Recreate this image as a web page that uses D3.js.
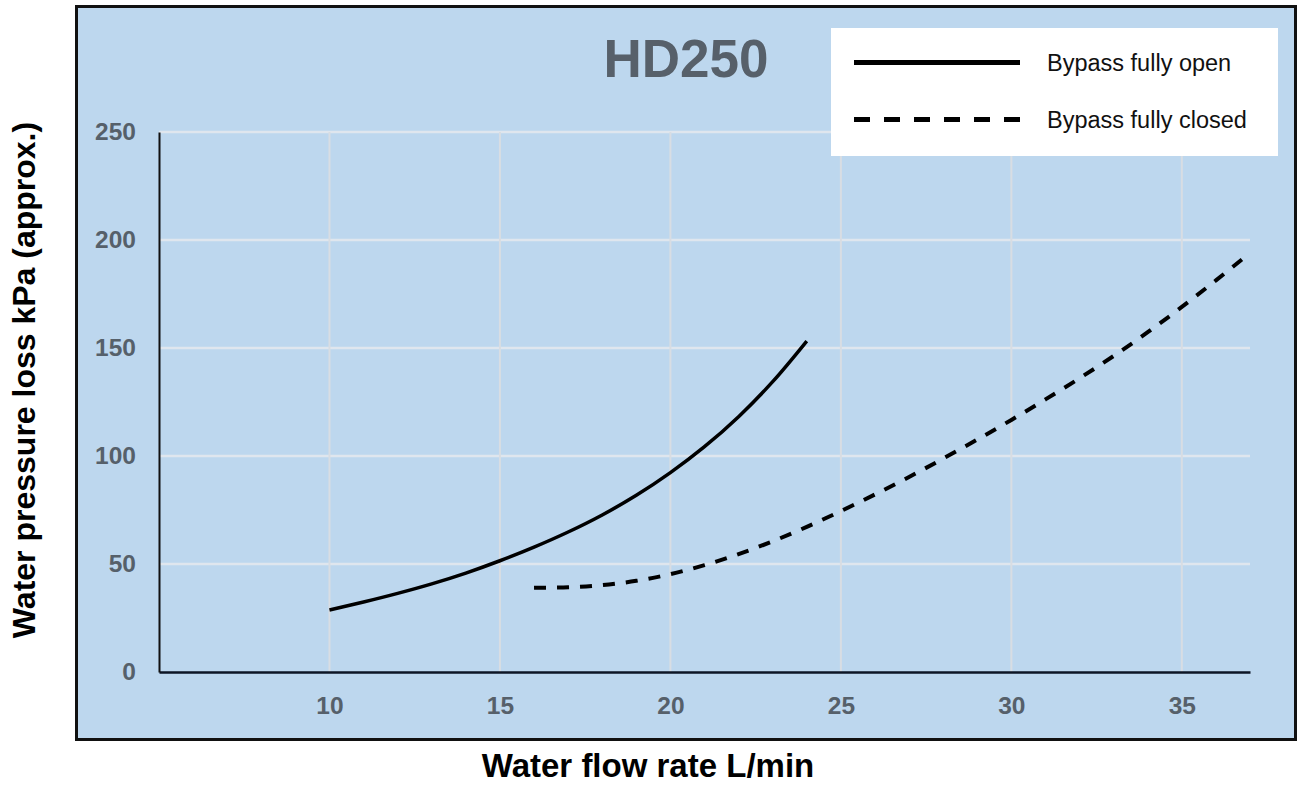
<!DOCTYPE html>
<html>
<head>
<meta charset="utf-8">
<script src="https://cdn.jsdelivr.net/npm/d3@7"></script>
<style>
  html, body { margin: 0; padding: 0; background: #ffffff; }
  svg { display: block; font-family: "Liberation Sans", Arial, sans-serif; }
</style>
</head>
<body>
<svg id="chart" width="1298" height="785"></svg>
<script>
// ---- data ----
const chartTitle = "HD250";
const xTitle = "Water flow rate L/min";
const yTitle = "Water pressure loss kPa (approx.)";
const seriesNames = ["Bypass fully open", "Bypass fully closed"];
const xTicks = [10, 15, 20, 25, 30, 35];
const yTicks = [0, 50, 100, 150, 200, 250];
const openFlow = [10, 11, 12, 13, 14, 15, 16, 17, 18, 19, 20, 21, 22, 23, 24];
const openLoss = [28.7, 32.4, 36.4, 40.8, 45.8, 51.5, 57.8, 64.8, 72.7, 81.8, 92.3, 104.3, 118.2, 134.4, 153.2];
const closedFlow = [16, 17, 18, 19, 20, 21, 22, 23, 24, 25, 26, 27, 28, 29, 30, 31, 32, 33, 34, 35, 36, 37];
const closedLoss = [39, 39.2, 40.2, 42.2, 45.3, 49.5, 54.6, 60.5, 67.2, 74.5, 82.2, 90.3, 98.8, 107.6, 116.7, 126.2, 136, 146.3, 157.3, 169, 181.3, 194];

// ---- layout ----
const svg = d3.select("#chart");
const plot = { left: 159, right: 1250, top: 132, bottom: 672 };
const x = d3.scaleLinear().domain([5, 37]).range([plot.left, plot.right]);
const y = d3.scaleLinear().domain([0, 250]).range([plot.bottom, plot.top]);

// frame
svg.append("rect")
  .attr("x", 76.5).attr("y", 6.5).attr("width", 1219).attr("height", 733)
  .attr("fill", "#BDD7EE").attr("stroke", "#111").attr("stroke-width", 3);

// gridlines
const grid = svg.append("g");
grid.selectAll("line.h").data(yTicks.filter(d => d > 0)).join("line")
  .attr("class", "h")
  .attr("x1", plot.left).attr("x2", plot.right)
  .attr("y1", d => y(d)).attr("y2", d => y(d))
  .attr("stroke", "#DFE6EE").attr("stroke-width", 2.5);
grid.selectAll("line.v").data(xTicks).join("line")
  .attr("class", "v")
  .attr("x1", d => x(d)).attr("x2", d => x(d))
  .attr("y1", plot.top).attr("y2", plot.bottom)
  .attr("stroke", "#D8DDE3").attr("stroke-width", 2);

// axes
const xAxis = svg.append("g").attr("transform", `translate(0,${plot.bottom})`)
  .call(d3.axisBottom(x).tickValues(xTicks).tickSize(0).tickPadding(0));
xAxis.select(".domain").attr("stroke", "#0d1525").attr("stroke-width", 2.5);
xAxis.selectAll("text")
  .attr("y", 33).attr("dy", "0.35em")
  .attr("font-size", 24.5).attr("font-weight", "bold")
  .attr("fill", "#56606a").attr("font-family", "Liberation Sans, Arial, sans-serif");

const yAxis = svg.append("g").attr("transform", `translate(${plot.left},0)`)
  .call(d3.axisLeft(y).tickValues(yTicks).tickSize(0).tickPadding(23));
yAxis.select(".domain").attr("stroke", "#111").attr("stroke-width", 2);
yAxis.selectAll("text")
  .attr("font-size", 24.5).attr("font-weight", "bold")
  .attr("fill", "#56606a").attr("font-family", "Liberation Sans, Arial, sans-serif");

// lines
const line = d3.line().x(d => x(d[0])).y(d => y(d[1])).curve(d3.curveCatmullRom.alpha(0.5));
svg.append("path")
  .datum(d3.zip(openFlow, openLoss))
  .attr("d", line).attr("fill", "none")
  .attr("stroke", "#000").attr("stroke-width", 3.5);
svg.append("path")
  .datum(d3.zip(closedFlow, closedLoss))
  .attr("d", line).attr("fill", "none")
  .attr("stroke", "#000").attr("stroke-width", 4)
  .attr("stroke-dasharray", "12,11");

// title
svg.append("text")
  .attr("x", 686).attr("y", 77)
  .attr("text-anchor", "middle")
  .attr("font-size", 53).attr("font-weight", "bold")
  .attr("fill", "#57606a")
  .text(chartTitle);

// legend
const lg = svg.append("g");
lg.append("rect").attr("x", 831).attr("y", 28).attr("width", 447).attr("height", 128).attr("fill", "#fff");
const legendRows = [
  { name: seriesNames[0], dash: null, y: 62.5 },
  { name: seriesNames[1], dash: "16,14", y: 119.5 }
];
legendRows.forEach(r => {
  lg.append("line")
    .attr("x1", 854).attr("x2", 1020).attr("y1", r.y).attr("y2", r.y)
    .attr("stroke", "#000").attr("stroke-width", 5)
    .attr("stroke-dasharray", r.dash);
  lg.append("text")
    .attr("x", 1047).attr("y", r.y).attr("dy", "0.35em")
    .attr("font-size", 23.5).attr("fill", "#111")
    .text(r.name);
});

// axis titles
svg.append("text")
  .attr("x", 648).attr("y", 777)
  .attr("text-anchor", "middle")
  .attr("font-size", 33).attr("font-weight", "bold").attr("fill", "#000")
  .text(xTitle);
svg.append("text")
  .attr("transform", "translate(35,380) rotate(-90)")
  .attr("text-anchor", "middle")
  .attr("font-size", 32).attr("font-weight", "bold").attr("fill", "#000")
  .text(yTitle);
</script>
</body>
</html>
